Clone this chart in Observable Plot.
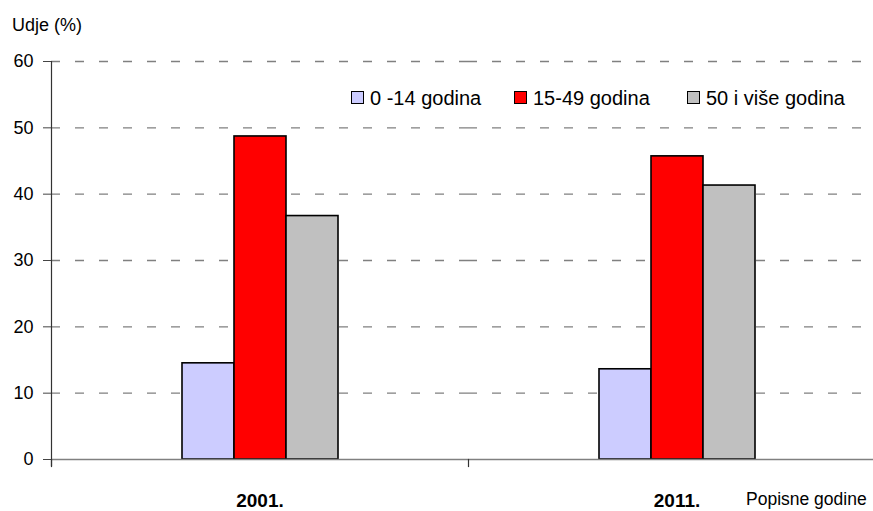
<!DOCTYPE html>
<html><head><meta charset="utf-8">
<script src="https://cdn.jsdelivr.net/npm/d3@7"></script>
<script src="https://cdn.jsdelivr.net/npm/@observablehq/plot@0.6"></script>
<style>
body{margin:0;background:#fff;}
#wrap{position:relative;width:873px;height:511px;overflow:hidden;font-family:"Liberation Sans",Arial,sans-serif;color:#000;}
#wrap svg{position:absolute;left:0;top:0;}
.lbl{position:absolute;line-height:1;white-space:nowrap;}
.sw{position:absolute;box-sizing:border-box;width:13px;height:13px;border:1.5px solid #000;}
</style></head><body><div id="wrap"></div>
<script>
// ---- data ----
const years = ["2001.", "2011."];
const groups = ["0 -14 godina", "15-49 godina", "50 i više godina"];
const v0_14 = [14.5, 13.6];
const v15_49 = [48.7, 45.7];
const v50plus = [36.7, 41.3];
const colors = ["#CCCCFF", "#FF0000", "#C0C0C0"];
const yTicks = [0, 10, 20, 30, 40, 50, 60];
const yTitle = "Udje (%)";
const xTitle = "Popisne godine";

const series = [v0_14, v15_49, v50plus];
const rows = [];
years.forEach((yr, i) => groups.forEach((g, j) => rows.push({year: yr, group: g, value: series[j][i]})));

const FONT = '"Liberation Sans", Arial, sans-serif';

const chart = Plot.plot({
  width: 873, height: 511,
  marginTop: 61, marginBottom: 52, marginLeft: 50, marginRight: 0,
  style: {fontFamily: FONT, color: "#000", background: "transparent"},
  fx: {domain: years, range: [50, 885], padding: 0, axis: null},
  x: {domain: groups, paddingInner: 0, paddingOuter: 2.45, axis: null},
  y: {domain: [0, 60], axis: null},
  color: {domain: groups, range: colors},
  marks: [
    Plot.ruleY(yTicks.filter(t => t > 0), {stroke: "#808080", strokeWidth: 1.3, strokeDasharray: "9,15"}),
    Plot.barY(rows, {fx: "year", x: "group", y: "value", fill: "group", stroke: "#000", strokeWidth: 1.6}),
    Plot.ruleY([0], {stroke: "#808080", strokeWidth: 1.6}),
    Plot.frame({anchor: "left", facetAnchor: "left", insetBottom: -6, stroke: "#333", strokeWidth: 1.2}),
    Plot.frame({anchor: "left", insetTop: 398, insetBottom: -7, stroke: "#333", strokeWidth: 1.2}),
    Plot.axisY(yTicks, {tickSize: 8, tickPadding: 10, fontSize: 18, stroke: "#444", label: null}),
    Plot.axisFx({anchor: "bottom", tickSize: 0, tickPadding: 34, fontSize: 19, fontWeight: "bold", label: null})
  ]
});

const wrap = document.getElementById("wrap");
wrap.appendChild(chart);

function addLabel(text, left, top, size) {
  const d = document.createElement("div");
  d.className = "lbl";
  d.textContent = text;
  d.style.left = left + "px";
  d.style.top = top + "px";
  d.style.fontSize = size + "px";
  wrap.appendChild(d);
  return d;
}
addLabel(yTitle, 12, 16, 18);
addLabel(xTitle, 746, 491, 17.5);

// legend
const legendX = [351, 514, 687];
groups.forEach((g, j) => {
  const sw = document.createElement("div");
  sw.className = "sw";
  sw.style.left = legendX[j] + "px";
  sw.style.top = "91px";
  sw.style.background = colors[j];
  wrap.appendChild(sw);
  addLabel(g, legendX[j] + 19, 88, 20);
});
</script>
</body></html>
